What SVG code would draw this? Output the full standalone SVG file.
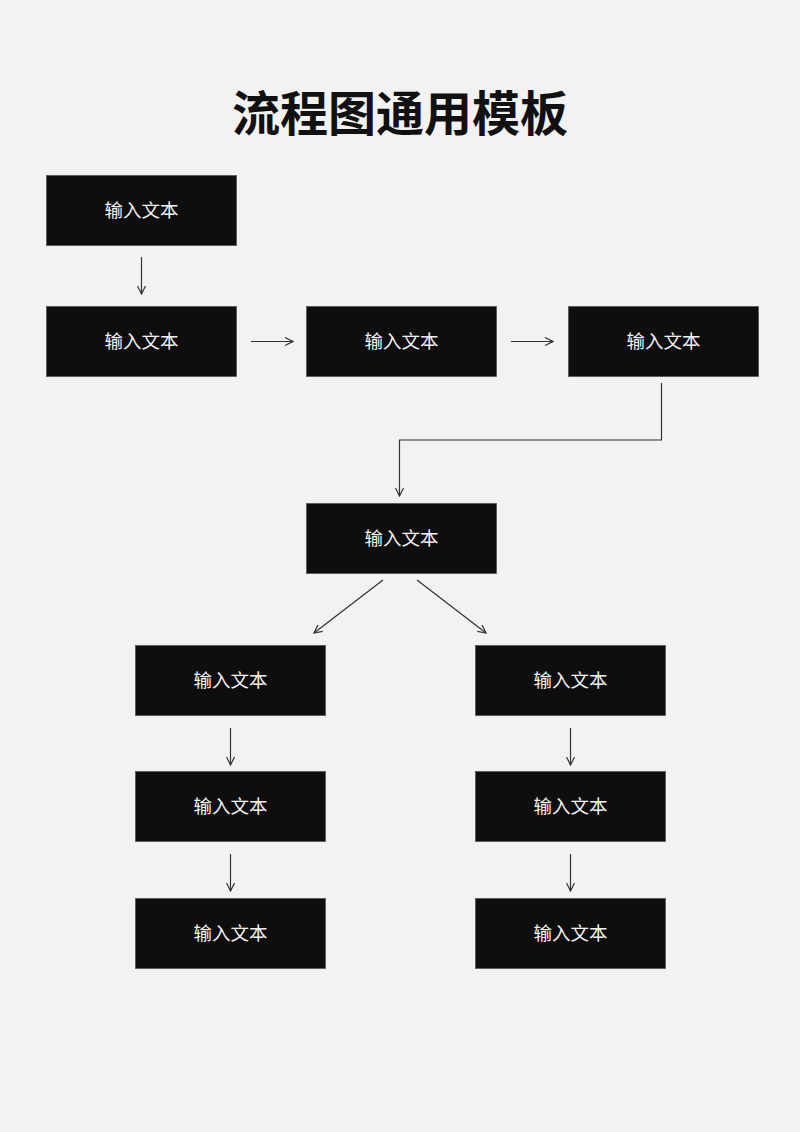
<svg xmlns="http://www.w3.org/2000/svg" width="800" height="1132" viewBox="0 0 800 1132">
<defs>
<marker id="arr" viewBox="0 0 10 10" refX="9" refY="5" markerWidth="10" markerHeight="10" markerUnits="userSpaceOnUse" orient="auto">
<path d="M1,1 L9,5 L1,9" fill="none" stroke="#333" stroke-width="1.2"/>
</marker>
<style>
.box{fill:#0e0e0e;stroke:#555;stroke-width:0.8}
.lbl{fill:#f2f2f2;font-family:"Noto Sans CJK SC","Noto Sans",sans-serif;font-size:18.5px;text-anchor:middle}
.ln{fill:none;stroke:#333;stroke-width:1.2;marker-end:url(#arr)}
</style>
</defs>
<rect width="800" height="1132" fill="#f2f2f2"/>
<text x="400" y="131" text-anchor="middle" font-family="Noto Sans CJK SC, sans-serif" font-weight="bold" font-size="48" fill="#111">流程图通用模板</text>
<g id="n1"><rect class="box" x="46.5" y="175.5" width="190" height="70"/><text class="lbl" x="141.5" y="216.5">输入文本</text></g>
<g id="n2"><rect class="box" x="46.5" y="306.5" width="190" height="70"/><text class="lbl" x="141.5" y="347.5">输入文本</text></g>
<g id="n3"><rect class="box" x="306.5" y="306.5" width="190" height="70"/><text class="lbl" x="401.5" y="347.5">输入文本</text></g>
<g id="n4"><rect class="box" x="568.5" y="306.5" width="190" height="70"/><text class="lbl" x="663.5" y="347.5">输入文本</text></g>
<g id="n5"><rect class="box" x="306.5" y="503.5" width="190" height="70"/><text class="lbl" x="401.5" y="544.5">输入文本</text></g>
<g id="n6"><rect class="box" x="135.5" y="645.5" width="190" height="70"/><text class="lbl" x="230.5" y="686.5">输入文本</text></g>
<g id="n7"><rect class="box" x="475.5" y="645.5" width="190" height="70"/><text class="lbl" x="570.5" y="686.5">输入文本</text></g>
<g id="n8"><rect class="box" x="135.5" y="771.5" width="190" height="70"/><text class="lbl" x="230.5" y="812.5">输入文本</text></g>
<g id="n9"><rect class="box" x="475.5" y="771.5" width="190" height="70"/><text class="lbl" x="570.5" y="812.5">输入文本</text></g>
<g id="n10"><rect class="box" x="135.5" y="898.5" width="190" height="70"/><text class="lbl" x="230.5" y="939.5">输入文本</text></g>
<g id="n11"><rect class="box" x="475.5" y="898.5" width="190" height="70"/><text class="lbl" x="570.5" y="939.5">输入文本</text></g>
<g id="connectors">
<path class="ln" d="M141.5,257 L141.5,294"/>
<path class="ln" d="M251,341.5 L293,341.5"/>
<path class="ln" d="M511,341.5 L553,341.5"/>
<path class="ln" d="M661.5,383 L661.5,440 L399.5,440 L399.5,496"/>
<path class="ln" d="M383,580 L314,633"/>
<path class="ln" d="M417,580 L486,633"/>
<path class="ln" d="M230.5,728 L230.5,765"/>
<path class="ln" d="M230.5,854 L230.5,891"/>
<path class="ln" d="M570.5,728 L570.5,765"/>
<path class="ln" d="M570.5,854 L570.5,891"/>
</g>
</svg>
